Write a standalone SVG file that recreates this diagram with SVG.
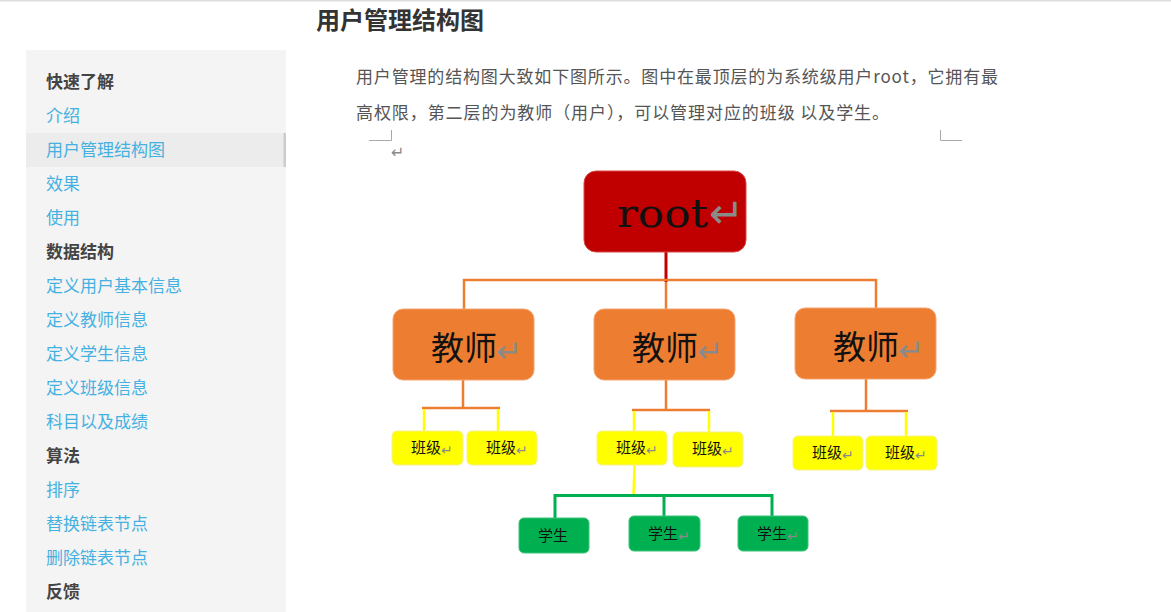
<svg xmlns="http://www.w3.org/2000/svg" width="1171" height="612" viewBox="0 0 1171 612">
<style>
.side{font-family:"Noto Sans CJK SC","Noto Sans",sans-serif;font-size:17px;fill:#45b1e1}
.head{font-family:"Noto Sans CJK SC","Noto Sans",sans-serif;font-size:17px;font-weight:bold;fill:#444}
.para{font-family:"Noto Sans CJK SC","Noto Sans",sans-serif;font-size:17px;fill:#555}
.ret{font-family:"DejaVu Sans",sans-serif;fill:#8a8a8a}
.cjk{font-family:"Liberation Serif","Noto Sans CJK SC",serif;fill:#111}
.teacher{fill:#ed7d31;stroke:#f4a572;stroke-width:1}
.cls{fill:#ffff00;stroke:#f6f08a;stroke-width:1}
.stu{fill:#00b050;stroke:#3cc47a;stroke-width:1}
.or{stroke:#ed7d31;stroke-width:2.5;fill:none}
.ye{stroke:#ffff00;stroke-width:2.5;fill:none}
.gr{stroke:#00b050;stroke-width:3;fill:none}
.mark{stroke:#aaa;stroke-width:1;fill:none}
</style>
<rect x="0" y="0" width="1171" height="612" fill="#ffffff"/>
<rect x="0" y="0" width="1171" height="1.5" fill="#dddddd"/>

<g id="sidebar">
<rect x="26" y="50" width="260" height="562" fill="#f4f4f4"/>
<rect x="26" y="133" width="260" height="34" fill="#ececec"/>
<rect x="283.5" y="133" width="2.5" height="34" fill="#cccccc"/>
<text class="head" x="46" y="88">快速了解</text>
<text class="side" x="46" y="122">介绍</text>
<text class="side" x="46" y="156">用户管理结构图</text>
<text class="side" x="46" y="190">效果</text>
<text class="side" x="46" y="224">使用</text>
<text class="head" x="46" y="258">数据结构</text>
<text class="side" x="46" y="292">定义用户基本信息</text>
<text class="side" x="46" y="326">定义教师信息</text>
<text class="side" x="46" y="360">定义学生信息</text>
<text class="side" x="46" y="394">定义班级信息</text>
<text class="side" x="46" y="428">科目以及成绩</text>
<text class="head" x="46" y="462">算法</text>
<text class="side" x="46" y="496">排序</text>
<text class="side" x="46" y="530">替换链表节点</text>
<text class="side" x="46" y="564">删除链表节点</text>
<text class="head" x="46" y="598">反馈</text>
</g>

<g id="content">
<text x="316" y="29" font-family="'Noto Sans CJK SC','Noto Sans',sans-serif" font-size="24" font-weight="bold" fill="#333">用户管理结构图</text>
<text class="para" x="356" y="83" textLength="642">用户管理的结构图大致如下图所示。图中在最顶层的为系统级用户root，它拥有最</text>
<text class="para" x="356" y="119" textLength="533">高权限，第二层的为教师（用户），可以管理对应的班级 以及学生。</text>
<path class="mark" d="M369,140.5 H391.5 V130"/>
<path class="mark" d="M940.5,130 V140.5 H962"/>
<text class="ret" x="391" y="158" font-size="16">↵</text>
</g>

<g id="connectors">
<line x1="666" y1="252" x2="666" y2="282" stroke="#c00000" stroke-width="3"/>
<path class="or" d="M464,309 V280 H876 V308"/>
<line class="or" x1="666" y1="282" x2="666" y2="309"/>
<line class="or" x1="463" y1="380" x2="463" y2="408"/>
<line class="or" x1="422" y1="408" x2="500" y2="408"/>
<line class="ye" x1="424" y1="409" x2="424" y2="431"/>
<line class="ye" x1="498" y1="409" x2="498" y2="431"/>
<line class="or" x1="666" y1="380" x2="666" y2="410"/>
<line class="or" x1="632" y1="410" x2="710" y2="410"/>
<line class="ye" x1="634" y1="411" x2="634" y2="431"/>
<line class="ye" x1="709" y1="411" x2="709" y2="432"/>
<line class="or" x1="866" y1="379" x2="866" y2="411"/>
<line class="or" x1="830" y1="411" x2="908" y2="411"/>
<line class="ye" x1="833" y1="412" x2="833" y2="436"/>
<line class="ye" x1="906" y1="412" x2="906" y2="436"/>
<line class="ye" x1="634.5" y1="465" x2="633.5" y2="495"/>
<path class="gr" d="M555,518 V495.5 H772 V516"/>
<line class="gr" x1="664" y1="495.5" x2="664" y2="516"/>
</g>

<g id="root">
<rect x="584" y="171" width="162" height="81" rx="12" fill="#c00000" stroke="#d84848" stroke-width="1"/>
<text x="617" y="227" font-family="'DejaVu Serif',serif" font-size="40" fill="#111" textLength="91" lengthAdjust="spacingAndGlyphs">root</text>
<text class="ret" x="709" y="228" font-size="42">↵</text>
</g>

<g id="teacher1">
<rect class="teacher" x="393" y="309" width="141" height="71" rx="10"/>
<text class="cjk" x="431" y="360" font-size="33">教师</text>
<text class="ret" x="496" y="362" font-size="31">↵</text>
</g>
<g id="teacher2">
<rect class="teacher" x="594" y="309" width="141" height="71" rx="10"/>
<text class="cjk" x="632" y="360" font-size="33">教师</text>
<text class="ret" x="697" y="362" font-size="31">↵</text>
</g>
<g id="teacher3">
<rect class="teacher" x="795" y="308" width="141" height="71" rx="10"/>
<text class="cjk" x="833" y="359" font-size="33">教师</text>
<text class="ret" x="898" y="361" font-size="31">↵</text>
</g>

<g id="class1">
<rect class="cls" x="392" y="431" width="71" height="34" rx="5"/>
<text class="cjk" x="411" y="453" font-size="15">班级</text>
<text class="ret" x="441" y="455" font-size="14">↵</text>
</g>
<g id="class2">
<rect class="cls" x="467" y="431" width="70" height="34" rx="5"/>
<text class="cjk" x="486" y="453" font-size="15">班级</text>
<text class="ret" x="516" y="455" font-size="14">↵</text>
</g>
<g id="class3">
<rect class="cls" x="597" y="431" width="70" height="34" rx="5"/>
<text class="cjk" x="616" y="453" font-size="15">班级</text>
<text class="ret" x="646" y="455" font-size="14">↵</text>
</g>
<g id="class4">
<rect class="cls" x="673" y="432" width="70" height="35" rx="5"/>
<text class="cjk" x="692" y="454" font-size="15">班级</text>
<text class="ret" x="722" y="456" font-size="14">↵</text>
</g>
<g id="class5">
<rect class="cls" x="793" y="436" width="70" height="34" rx="5"/>
<text class="cjk" x="812" y="458" font-size="15">班级</text>
<text class="ret" x="842" y="460" font-size="14">↵</text>
</g>
<g id="class6">
<rect class="cls" x="866" y="436" width="71" height="34" rx="5"/>
<text class="cjk" x="885" y="458" font-size="15">班级</text>
<text class="ret" x="915" y="460" font-size="14">↵</text>
</g>

<g id="student1">
<rect class="stu" x="519" y="518" width="70" height="35" rx="5"/>
<text class="cjk" x="538" y="541" font-size="15">学生</text>
</g>
<g id="student2">
<rect class="stu" x="629" y="516" width="71" height="35" rx="5"/>
<text class="cjk" x="648" y="539" font-size="15">学生</text>
<text class="ret" x="678" y="541" font-size="14">↵</text>
</g>
<g id="student3">
<rect class="stu" x="738" y="516" width="70" height="35" rx="5"/>
<text class="cjk" x="757" y="539" font-size="15">学生</text>
<text class="ret" x="787" y="541" font-size="14">↵</text>
</g>
</svg>
